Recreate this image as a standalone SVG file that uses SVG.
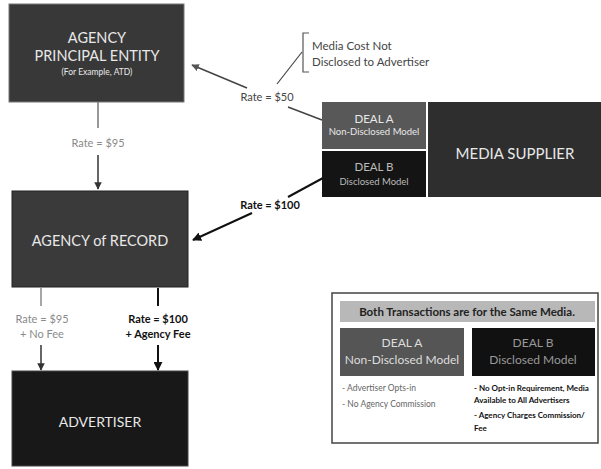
<svg xmlns="http://www.w3.org/2000/svg" width="601" height="469" viewBox="0 0 601 469">
<defs>
<style>
.t{font-family:Lato,"Open Sans","Liberation Sans",sans-serif;text-anchor:middle}
.w{fill:#e8e8e8}
.big{font-size:14.5px}
.lbl{font-size:11px}
.g{fill:#8a8a8a}
.k{fill:#111;font-weight:bold}
.ln{fill:none;stroke-width:1.5}
</style>
<marker id="ag" viewBox="0 0 10 10" refX="9" refY="5" markerWidth="5" markerHeight="5" orient="auto-start-reverse" markerUnits="strokeWidth"><path d="M0,0 L10,5 L0,10 z" fill="#555"/></marker>
<marker id="ak" viewBox="0 0 10 10" refX="9" refY="5" markerWidth="4.5" markerHeight="4.5" orient="auto-start-reverse" markerUnits="strokeWidth"><path d="M0,0 L10,5 L0,10 z" fill="#111"/></marker>
<marker id="agr" viewBox="0 0 10 10" refX="9" refY="5" markerWidth="5" markerHeight="5" orient="auto-start-reverse" markerUnits="strokeWidth"><path d="M0,0 L10,5 L0,10 z" fill="#333"/></marker>
</defs>
<rect width="601" height="469" fill="#fff"/>

<g id="connectors">
  <!-- APE -> AoR -->
  <line class="ln" x1="98" y1="102" x2="98" y2="128" stroke="#777"/>
  <line class="ln" x1="98" y1="155" x2="98" y2="189" stroke="#333" marker-end="url(#agr)"/>
  <text class="t lbl g" x="98" y="147">Rate = $95</text>
  <!-- Deal A -> APE -->
  <line class="ln" x1="322" y1="120" x2="288" y2="107" stroke="#444"/>
  <line class="ln" x1="247" y1="88" x2="192" y2="65" stroke="#444" marker-end="url(#ag)"/>
  <text class="t lbl" x="267" y="101" fill="#444">Rate = $50</text>
  <line x1="277" y1="84" x2="302" y2="52" stroke="#444" stroke-width="1.2"/>
  <path d="M309,33 H303 V72 H309" fill="none" stroke="#555" stroke-width="1.2"/>
  <text class="t" x="312" y="50" fill="#444" style="text-anchor:start;font-size:11.5px">Media Cost Not</text>
  <text class="t" x="312" y="66" fill="#444" style="text-anchor:start;font-size:11.5px">Disclosed to Advertiser</text>
  <!-- Deal B -> AoR -->
  <line x1="323" y1="178" x2="288" y2="197" stroke="#111" stroke-width="2"/>
  <line x1="252" y1="213" x2="193" y2="240" stroke="#111" stroke-width="2" marker-end="url(#ak)"/>
  <text class="t lbl k" x="270" y="209">Rate = $100</text>
  <!-- AoR -> Advertiser left -->
  <line class="ln" x1="41" y1="288" x2="41" y2="306" stroke="#888"/>
  <text class="t lbl g" x="42" y="323">Rate = $95</text>
  <text class="t lbl g" x="42" y="338">+ No Fee</text>
  <line class="ln" x1="41" y1="345" x2="41" y2="370" stroke="#333" marker-end="url(#agr)"/>
  <!-- AoR -> Advertiser right -->
  <line x1="158" y1="288" x2="158" y2="306" stroke="#111" stroke-width="2"/>
  <text class="t lbl k" x="158" y="323">Rate = $100</text>
  <text class="t lbl k" x="158" y="338">+ Agency Fee</text>
  <line x1="158" y1="345" x2="158" y2="370" stroke="#111" stroke-width="2" marker-end="url(#ak)"/>
</g>

<g id="agency-principal">
  <rect x="9" y="4" width="175" height="98" fill="#383838" stroke="#777" stroke-width="1"/>
  <text class="t w big" x="97" y="43">AGENCY</text>
  <text class="t w big" x="97" y="61">PRINCIPAL ENTITY</text>
  <text class="t w" x="97" y="75" style="font-size:8.5px">(For Example, ATD)</text>
</g>

<g id="agency-of-record">
  <rect x="12" y="191" width="176" height="96" fill="#3a3a3a" stroke="#222" stroke-width="1"/>
  <text class="t w big" x="100" y="246">AGENCY of RECORD</text>
</g>

<g id="advertiser">
  <rect x="12" y="371" width="176" height="95" fill="#181818" stroke="#444" stroke-width="1"/>
  <text class="t w" x="100" y="427" style="font-size:14px">ADVERTISER</text>
</g>

<g id="deal-a">
  <rect x="322" y="102" width="104" height="47" fill="#585858"/>
  <text class="t w" x="374" y="123" style="font-size:11.5px">DEAL A</text>
  <text class="t w" x="374" y="135" style="font-size:9.5px">Non-Disclosed Model</text>
</g>

<g id="deal-b">
  <rect x="322" y="151" width="104" height="46" fill="#141414"/>
  <text class="t" x="374" y="171" fill="#bbb" style="font-size:11.5px">DEAL B</text>
  <text class="t" x="374" y="185" fill="#bbb" style="font-size:9.5px">Disclosed Model</text>
</g>

<g id="media-supplier">
  <rect x="428" y="102" width="173" height="95" fill="#2e2e2e"/>
  <text class="t w" x="515" y="159" style="font-size:15px">MEDIA SUPPLIER</text>
</g>

<g id="legend">
  <rect x="332" y="293" width="266" height="150" fill="#fff" stroke="#444" stroke-width="1.5"/>
  <rect x="340" y="301" width="255" height="21" fill="#b8b8b8"/>
  <text class="t" x="467" y="316" fill="#222" style="font-size:11.5px;font-weight:bold">Both Transactions are for the Same Media.</text>
  <rect x="340" y="328" width="124" height="48" fill="#555"/>
  <text class="t" x="402" y="347" fill="#ddd" style="font-size:12px">DEAL A</text>
  <text class="t" x="402" y="364" fill="#ddd" style="font-size:12px">Non-Disclosed Model</text>
  <rect x="472" y="328" width="123" height="48" fill="#111"/>
  <text class="t" x="533" y="347" fill="#999" style="font-size:12px">DEAL B</text>
  <text class="t" x="533" y="364" fill="#999" style="font-size:12px">Disclosed Model</text>
  <g class="t" style="text-anchor:start;font-size:8.5px" fill="#666">
    <text x="342" y="391">- Advertiser Opts-in</text>
    <text x="342" y="407">- No Agency Commission</text>
  </g>
  <g class="t" style="text-anchor:start;font-size:8px;font-weight:bold" fill="#111">
    <text x="474" y="391">- No Opt-in Requirement, Media</text>
    <text x="474" y="403">Available to All Advertisers</text>
    <text x="474" y="418">- Agency Charges Commission/</text>
    <text x="474" y="431">Fee</text>
  </g>
</g>
</svg>
